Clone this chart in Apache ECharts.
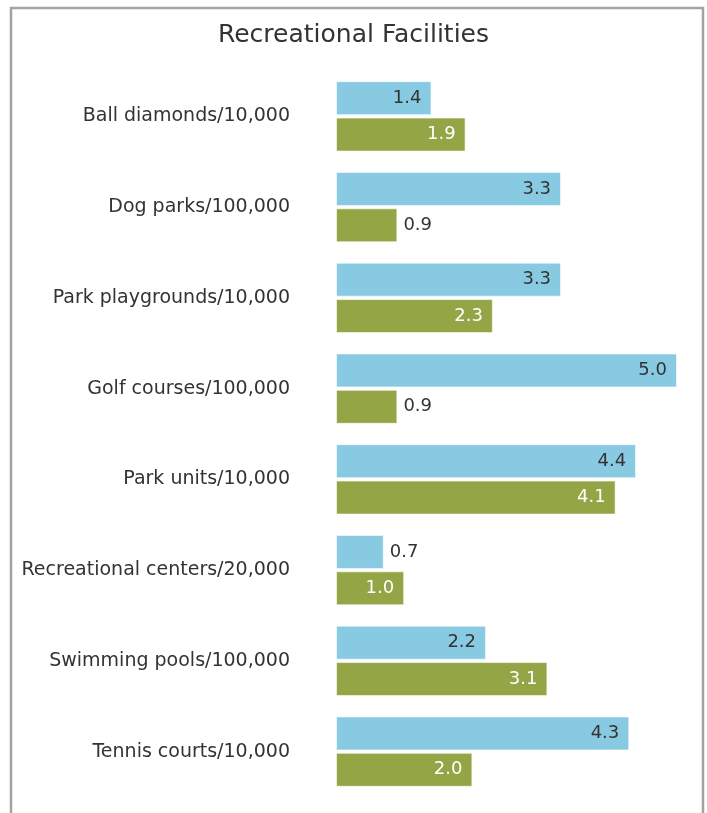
<!DOCTYPE html>
<html>
<head>
<meta charset="utf-8"/>
<title>Recreational Facilities</title>
<script type="text/javascript" src="https://cdn.jsdelivr.net/npm/echarts@6/dist/echarts.min.js"></script>
<style type="text/css">
	body{
		margin: 0px;
		padding: 0px;
		background: #fff;
	}
	#chart{
		width: 707px;
		height: 813px;
	}
</style>
</head>
<body>
	<div id="chart"></div>
<script type="text/javascript">
	// 分类
	var categories = ['Ball diamonds/10,000','Dog parks/100,000','Park playgrounds/10,000','Golf courses/100,000','Park units/10,000','Recreational centers/20,000','Swimming pools/100,000','Tennis courts/10,000'];
	// 两组数值
	var data_blue = [1.4, 3.3, 3.3, 5.0, 4.4, 0.7, 2.2, 4.3];
	var data_green = [1.9, 0.9, 2.3, 0.9, 4.1, 1.0, 3.1, 2.0];

	var fontName = 'DejaVu Sans';

	// 小数值标签放到柱子外面
	function buildData(arr, insideColor){
		var out = [];
		for(var i=0;i<arr.length;i++){
			if(arr[i] < 1){
				out.push({value: arr[i], label: {position: 'right', distance: 6, color: '#333'}});
			}else{
				out.push({value: arr[i], label: {color: insideColor}});
			}
		}
		return out;
	}

	var myChart = echarts.init(document.getElementById('chart'));
	var option = {
		animation: false,
		title: {
			text: 'Recreational Facilities',
			left: 'center',
			top: 18,
			textStyle: {
				color: '#333',
				fontSize: 25,
				fontWeight: 'normal',
				fontFamily: fontName
			}
		},
		graphic: [{
			type: 'rect',
			shape: {x: 11, y: 8, width: 692, height: 900},
			style: {fill: 'none', stroke: '#a3a3a3', lineWidth: 2.5},
			silent: true
		}],
		grid: {
			left: 336,
			right: 30,
			top: 71,
			bottom: 16
		},
		xAxis: {
			type: 'value',
			min: 0,
			max: 5,
			show: false
		},
		yAxis: {
			type: 'category',
			inverse: true,
			data: categories,
			axisLine: {show: false},
			axisTick: {show: false},
			splitLine: {show: false},
			axisLabel: {
				color: '#333',
				fontSize: 19,
				fontFamily: fontName,
				margin: 46
			}
		},
		series: [
			{
				name: 'blue',
				type: 'bar',
				barWidth: 34,
				barGap: '7%',
				itemStyle: {
					color: '#87cae1',
					borderColor: 'rgba(255,255,255,0.6)',
					borderWidth: 1
				},
				label: {
					show: true,
					position: 'insideRight',
					distance: 10,
					fontSize: 18,
					fontFamily: fontName,
					formatter: function(p){ return p.value.toFixed(1); }
				},
				data: buildData(data_blue, '#333')
			},
			{
				name: 'green',
				type: 'bar',
				barWidth: 34,
				itemStyle: {
					color: '#94a545',
					borderColor: 'rgba(255,255,255,0.6)',
					borderWidth: 1
				},
				label: {
					show: true,
					position: 'insideRight',
					distance: 10,
					fontSize: 18,
					fontFamily: fontName,
					formatter: function(p){ return p.value.toFixed(1); }
				},
				data: buildData(data_green, '#fff')
			}
		]
	};
	myChart.setOption(option);
</script>
</body>
</html>
